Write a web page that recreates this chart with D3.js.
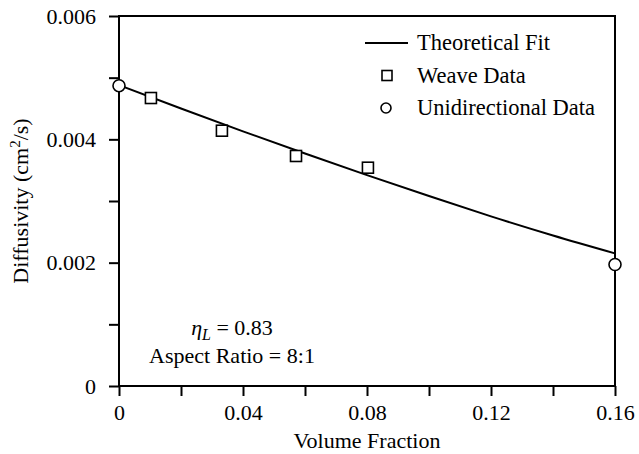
<!DOCTYPE html>
<html>
<head>
<meta charset="utf-8">
<script src="https://cdn.jsdelivr.net/npm/d3@7"></script>
<style>
  body { margin: 0; background: #fff; }
  svg text { font-family: "Liberation Serif", "Times New Roman", serif; fill: #000; }
</style>
</head>
<body>
<svg id="chart"></svg>
<script>
// data
const fitX = [0, 0.02, 0.04, 0.06, 0.08, 0.10, 0.12, 0.14, 0.16];
const fitY = [0.00488, 0.00450, 0.00413, 0.00377, 0.00342, 0.00308, 0.00275, 0.00244, 0.00215];
const weaveX = [0.0103, 0.0332, 0.0571, 0.0803];
const weaveY = [0.00467, 0.00414, 0.00373, 0.00354];
const uniX = [0, 0.16];
const uniY = [0.00487, 0.00197];
const xTicks = [0, 0.02, 0.04, 0.06, 0.08, 0.10, 0.12, 0.14, 0.16];
const xTickLabels = ["0", "", "0.04", "", "0.08", "", "0.12", "", "0.16"];
const yTicks = [0, 0.001, 0.002, 0.003, 0.004, 0.005, 0.006];
const yTickLabels = ["0", "", "0.002", "", "0.004", "", "0.006"];
const legendNames = ["Theoretical Fit", "Weave Data", "Unidirectional Data"];

const width = 639, height = 454;
const margin = {top: 16, right: 24, bottom: 68, left: 119};
const innerW = width - margin.left - margin.right;
const innerH = height - margin.top - margin.bottom;
const fs = 22;

const svg = d3.select("#chart")
  .attr("width", width)
  .attr("height", height);

const g = svg.append("g")
  .attr("transform", `translate(${margin.left},${margin.top})`);

const x = d3.scaleLinear().domain([0, 0.16]).range([0, innerW]);
const y = d3.scaleLinear().domain([0, 0.006]).range([innerH, 0]);

// frame
g.append("rect")
  .attr("width", innerW)
  .attr("height", innerH)
  .attr("fill", "none")
  .attr("stroke", "#000")
  .attr("stroke-width", 2);

// axes
const xAxis = g.append("g")
  .attr("transform", `translate(0,${innerH})`)
  .call(d3.axisBottom(x).tickValues(xTicks).tickSize(10).tickPadding(8)
    .tickFormat((d, i) => xTickLabels[i]));

const yAxis = g.append("g")
  .call(d3.axisLeft(y).tickValues(yTicks).tickSize(10).tickPadding(13)
    .tickFormat((d, i) => yTickLabels[i]));

[xAxis, yAxis].forEach(a => {
  a.attr("font-family", null);
  a.select(".domain").remove();
  a.selectAll(".tick line").attr("stroke", "#000").attr("stroke-width", 2);
  a.selectAll(".tick text")
    .style("font-family", '"Liberation Serif", serif')
    .attr("font-size", fs)
    .attr("fill", "#000");
});
yAxis.selectAll(".tick text").attr("dy", "0.33em");

// axis titles
g.append("text")
  .attr("x", innerW / 2)
  .attr("y", innerH + 62)
  .attr("text-anchor", "middle")
  .attr("font-size", fs)
  .text("Volume Fraction");

const yTitle = g.append("text")
  .attr("transform", `translate(${28 - margin.left},${innerH / 2}) rotate(-90)`)
  .attr("text-anchor", "middle")
  .attr("font-size", fs);
yTitle.append("tspan").text("Diffusivity (cm");
yTitle.append("tspan").attr("font-size", 15).attr("dy", -8).text("2");
yTitle.append("tspan").attr("dy", 8).text("/s)");

// theoretical fit
const line = d3.line()
  .x((d, i) => x(fitX[i]))
  .y(d => y(d))
  .curve(d3.curveMonotoneX);

g.append("path")
  .datum(fitY)
  .attr("d", line)
  .attr("fill", "none")
  .attr("stroke", "#000")
  .attr("stroke-width", 2);

// weave data squares
const sq = 11;
g.selectAll(".weave")
  .data(weaveY)
  .enter()
  .append("rect")
  .attr("class", "weave")
  .attr("x", (d, i) => x(weaveX[i]) - sq / 2)
  .attr("y", d => y(d) - sq / 2)
  .attr("width", sq)
  .attr("height", sq)
  .attr("fill", "#fff")
  .attr("stroke", "#000")
  .attr("stroke-width", 1.6);

// unidirectional data circles
g.selectAll(".uni")
  .data(uniY)
  .enter()
  .append("circle")
  .attr("class", "uni")
  .attr("cx", (d, i) => x(uniX[i]))
  .attr("cy", d => y(d))
  .attr("r", 6)
  .attr("fill", "#fff")
  .attr("stroke", "#000")
  .attr("stroke-width", 1.6);

// legend
const legend = svg.append("g").attr("transform", "translate(365,43)");
const rowH = 32.5;
legend.append("line")
  .attr("x1", 0).attr("x2", 43)
  .attr("y1", 0).attr("y2", 0)
  .attr("stroke", "#000")
  .attr("stroke-width", 2);
legend.append("rect")
  .attr("x", 22 - 5).attr("y", rowH - 5)
  .attr("width", 10).attr("height", 10)
  .attr("fill", "#fff").attr("stroke", "#000").attr("stroke-width", 1.6);
legend.append("circle")
  .attr("cx", 21).attr("cy", rowH * 2)
  .attr("r", 5)
  .attr("fill", "#fff").attr("stroke", "#000").attr("stroke-width", 1.6);
legend.selectAll(".legend-text")
  .data(legendNames)
  .enter()
  .append("text")
  .attr("class", "legend-text")
  .attr("x", 52)
  .attr("y", (d, i) => i * rowH + 7)
  .attr("font-size", 22.5)
  .text(d => d);

// annotation
const ann = svg.append("g").attr("transform", "translate(232,0)");
const eta = ann.append("text")
  .attr("y", 335)
  .attr("text-anchor", "middle")
  .attr("font-size", fs);
eta.append("tspan").attr("font-style", "italic").text("η");
eta.append("tspan").attr("font-style", "italic").attr("font-size", 16).attr("dy", 5).text("L");
eta.append("tspan").attr("dy", -5).text(" = 0.83");
ann.append("text")
  .attr("y", 363)
  .attr("text-anchor", "middle")
  .attr("font-size", fs)
  .text("Aspect Ratio = 8:1");
</script>
</body>
</html>
